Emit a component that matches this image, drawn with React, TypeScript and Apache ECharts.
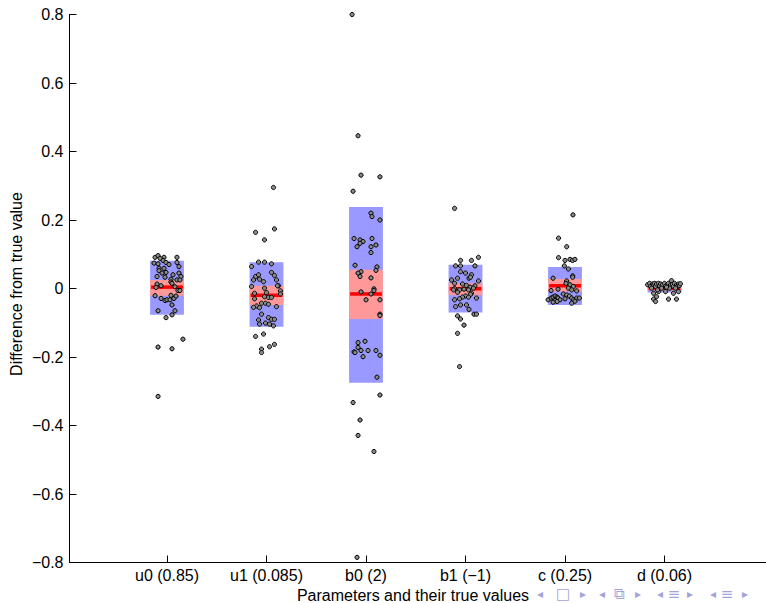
import React, { useEffect, useRef } from "react";
import * as echarts from "echarts";

const categories = ["u0 (0.85)", "u1 (0.085)", "b0 (2)", "b1 (\u22121)", "c (0.25)", "d (0.06)"];

const means = [0.004, -0.02, -0.016, -0.001, 0.008, 0.001];
const ciLow = [-0.021, -0.048, -0.089, -0.02, -0.009, -0.005];
const ciHigh = [0.025, 0.008, 0.055, 0.015, 0.028, 0.006];
const sdLow = [-0.077, -0.112, -0.275, -0.07, -0.048, -0.012];
const sdHigh = [0.081, 0.077, 0.238, 0.069, 0.063, 0.015];

// [horizontal jitter, value]
const u0Points: [number, number][] = [
  [-0.12, 0.091], [-0.09, 0.096], [-0.03, 0.091], [0.1, 0.091], [-0.13, 0.074], [-0.09, 0.072],
  [-0.04, 0.082], [-0.01, 0.076], [0.1, 0.076], [-0.08, 0.059], [-0.03, 0.059], [0.12, 0.064],
  [-0.08, 0.052], [-0.01, 0.047], [0.12, 0.045], [-0.1, 0.035], [-0.02, 0.033], [0.04, 0.027],
  [0.1, 0.025], [0.14, 0.035], [0.13, 0.025], [0.04, 0.019], [0.05, 0.015], [-0.1, 0.013],
  [-0.06, 0.008], [-0.11, 0.003], [0.11, -0.006], [0.13, -0.006], [-0.12, -0.021], [-0.06, -0.029],
  [-0.02, -0.035], [0.0, -0.033], [0.03, -0.033], [0.07, -0.029], [0.09, -0.022], [0.04, -0.02],
  [0.05, -0.048], [-0.09, -0.065], [0.08, -0.065], [0.05, -0.077], [-0.01, -0.085], [0.16, -0.148],
  [-0.09, -0.171], [0.05, -0.176], [-0.09, -0.315], [-0.07, 0.088], [0.02, 0.07], [0.06, 0.04],
  [-0.05, 0.045], [0.08, 0.005],
];
const u1Points: [number, number][] = [
  [0.07, 0.295], [-0.11, 0.164], [0.08, 0.174], [-0.02, 0.142], [-0.08, 0.077], [-0.02, 0.077],
  [0.05, 0.072], [-0.15, 0.064], [0.08, 0.038], [0.05, 0.047], [-0.11, 0.035], [-0.08, 0.04],
  [-0.07, 0.027], [-0.13, 0.025], [-0.03, 0.02], [0.1, 0.025], [0.12, 0.008], [0.11, 0.008],
  [-0.15, 0.006], [-0.02, 0.001], [-0.12, -0.014], [0.0, -0.012], [0.14, -0.007], [0.14, -0.016],
  [-0.02, -0.024], [0.02, -0.026], [0.05, -0.026], [-0.12, -0.03], [-0.05, -0.043], [-0.1, -0.051],
  [-0.07, -0.056], [-0.01, -0.043], [0.02, -0.046], [0.1, -0.053], [-0.13, -0.055], [-0.05, -0.075],
  [0.02, -0.085], [0.05, -0.09], [0.08, -0.09], [-0.01, -0.101], [0.03, -0.104], [0.07, -0.109],
  [-0.08, -0.092], [-0.07, -0.104], [-0.11, -0.14], [-0.03, -0.133], [0.08, -0.163], [0.03, -0.17],
  [-0.05, -0.177], [-0.05, -0.187],
];
const b0Points: [number, number][] = [
  [-0.14, 0.8], [-0.08, 0.446], [-0.05, 0.331], [0.14, 0.326], [-0.13, 0.284], [0.05, 0.22],
  [0.06, 0.21], [0.14, 0.2], [-0.12, 0.146], [-0.06, 0.142], [-0.03, 0.137], [-0.06, 0.132],
  [-0.09, 0.122], [0.06, 0.146], [0.05, 0.122], [0.1, 0.127], [0.05, 0.105], [-0.11, 0.068],
  [0.11, 0.063], [0.1, 0.053], [-0.05, 0.049], [-0.08, 0.045], [-0.06, 0.035], [0.05, 0.031],
  [-0.05, -0.01], [0.08, -0.001], [0.08, -0.006], [0.05, -0.016], [0.0, -0.033], [0.14, -0.033],
  [0.14, -0.075], [0.14, -0.079], [-0.08, -0.158], [-0.01, -0.154], [-0.08, -0.172], [-0.12, -0.185],
  [-0.11, -0.187], [-0.05, -0.181], [0.02, -0.181], [0.1, -0.181], [-0.03, -0.199], [0.14, -0.195],
  [0.11, -0.259], [0.14, -0.311], [-0.13, -0.333], [-0.06, -0.384], [-0.08, -0.429], [0.08, -0.476],
  [-0.09, -0.785],
];
const b1Points: [number, number][] = [
  [-0.11, 0.234], [-0.05, 0.082], [0.06, 0.082], [0.13, 0.091], [-0.1, 0.066], [-0.05, 0.066],
  [0.095, 0.066], [-0.05, 0.049], [0.0, 0.045], [0.06, 0.04], [0.035, 0.03], [0.05, 0.033],
  [-0.08, 0.03], [-0.14, 0.025], [0.13, 0.022], [-0.11, 0.015], [-0.03, 0.013], [0.01, 0.009],
  [0.095, 0.008], [0.045, 0.004], [-0.11, 0.0], [-0.12, -0.004], [-0.06, -0.004], [-0.015, -0.002],
  [0.03, -0.004], [0.08, 0.001], [-0.08, -0.011], [0.06, -0.014], [0.05, -0.017], [0.0, -0.022],
  [-0.03, -0.025], [0.03, -0.025], [-0.11, -0.033], [-0.06, -0.03], [0.11, -0.028], [-0.1, -0.053],
  [-0.05, -0.048], [0.01, -0.048], [0.035, -0.061], [0.085, -0.075], [0.11, -0.075], [-0.08, -0.08],
  [-0.05, -0.089], [-0.015, -0.107], [-0.08, -0.131], [-0.06, -0.228],
];
const cPoints: [number, number][] = [
  [0.08, 0.215], [-0.065, 0.147], [0.017, 0.122], [-0.065, 0.09], [0.0, 0.082], [0.05, 0.085],
  [0.077, 0.082], [0.1, 0.085], [-0.007, 0.066], [0.034, 0.057], [-0.12, 0.03], [0.017, 0.022],
  [0.077, 0.037], [0.077, 0.033], [0.01, 0.015], [0.05, 0.011], [0.084, 0.006], [0.034, 0.001],
  [-0.14, -0.006], [-0.07, -0.002], [-0.017, -0.016], [0.067, -0.004], [0.117, -0.007], [-0.17, -0.033],
  [-0.14, -0.028], [-0.12, -0.025], [-0.1, -0.022], [-0.08, -0.025], [-0.07, -0.028], [-0.05, -0.033],
  [0.017, -0.019], [0.044, -0.022], [0.067, -0.028], [0.084, -0.033], [0.117, -0.028], [0.144, -0.028],
  [0.0, -0.03], [0.067, -0.043], [-0.1, -0.035], [-0.08, -0.038], [-0.12, -0.04], [0.1, -0.037],
];
const dPoints: [number, number][] = [
  [-0.17, 0.011], [-0.15, 0.015], [-0.14, 0.006], [-0.12, 0.013], [-0.11, 0.011], [-0.1, 0.015],
  [-0.09, 0.006], [-0.08, 0.013], [-0.06, 0.015], [-0.05, 0.008], [-0.04, 0.013], [-0.02, 0.011],
  [0.0, 0.015], [0.01, 0.006], [0.03, 0.012], [0.04, 0.015], [0.06, 0.01], [0.07, 0.023],
  [0.08, 0.012], [0.09, 0.006], [0.1, 0.015], [0.12, 0.01], [0.13, 0.006], [0.14, 0.013],
  [0.15, 0.009], [0.16, 0.014], [-0.11, -0.014], [-0.08, -0.024], [-0.11, -0.031], [-0.09, -0.038],
  [0.04, -0.031], [0.12, -0.031], [-0.06, -0.009], [0.01, -0.009], [0.09, -0.014], [0.14, -0.009],
  [-0.13, 0.001], [-0.03, 0.001], [0.05, 0.001], [0.11, 0.001], [-0.07, -0.004], [0.02, 0.004],
];
const pointSets = [u0Points, u1Points, b0Points, b1Points, cPoints, dPoints];

const navIcons = ["\u25C2", "\u25A1", "\u25B8", "\u25C2", "\u29C9", "\u25B8", "\u25C2", "\u2261", "\u25B8", "\u25C2", "\u2261", "\u25B8"];
const navX = [540, 563, 583, 602, 619, 638, 660, 674, 690, 713, 727, 745];

const FONT = "'Liberation Sans', Arial, Helvetica, sans-serif";

export default function App() {
  const ref = useRef<HTMLDivElement>(null);
  useEffect(() => {
    if (!ref.current) return;
    const chart = echarts.init(ref.current, undefined, { renderer: "svg" });
    const boxData = categories.map((_, i) => [i + 1, sdLow[i], sdHigh[i], ciLow[i], ciHigh[i], means[i]]);
    const scatterData: number[][] = [];
    pointSets.forEach((pts, i) => pts.forEach(([o, v]) => scatterData.push([i + 1 + o, v])));
    const fmtY = (v: number) => {
      if (Math.abs(v) < 1e-9) return "0";
      const s = Math.abs(v).toFixed(1);
      return v < 0 ? "\u2212" + s : s;
    };
    chart.setOption({
      animation: false,
      backgroundColor: "#ffffff",
      grid: { left: 69.5, right: 0, top: 14.5, bottom: 40.5 },
      xAxis: {
        type: "value",
        min: 0.02,
        max: 7.02,
        axisLine: { show: true, onZero: false, lineStyle: { color: "#000", width: 1 } },
        axisTick: { show: true, inside: true, length: 7, lineStyle: { color: "#000" }, customValues: [1, 2, 3, 4, 5, 6] },
        axisLabel: {
          color: "#000",
          fontFamily: FONT,
          fontSize: 16,
          margin: 5,
          customValues: [1, 2, 3, 4, 5, 6],
          formatter: (v: number) => categories[Math.round(v) - 1] ?? "",
        },
        splitLine: { show: false },
      },
      yAxis: {
        type: "value",
        min: -0.8,
        max: 0.8,
        interval: 0.2,
        axisLine: { show: true, onZero: false, lineStyle: { color: "#000", width: 1 } },
        axisTick: { show: true, inside: true, length: 7, lineStyle: { color: "#000" } },
        axisLabel: { color: "#000", fontFamily: FONT, fontSize: 16, margin: 6, formatter: fmtY },
        splitLine: { show: false },
      },
      graphic: [
        {
          type: "text",
          x: 16,
          y: 284,
          rotation: Math.PI / 2,
          style: { text: "Difference from true value", fontFamily: FONT, fontSize: 16, fill: "#000", textAlign: "center", textVerticalAlign: "middle" },
        },
        {
          type: "text",
          x: 413,
          y: 595,
          style: { text: "Parameters and their true values", fontFamily: FONT, fontSize: 16, fill: "#000", textAlign: "center", textVerticalAlign: "middle" },
        },
        ...navIcons.map((t, i) => ({
          type: "text",
          x: navX[i],
          y: 594,
          style: { text: t, fontFamily: "'DejaVu Sans', sans-serif", fontSize: t === "\u25C2" || t === "\u25B8" ? 12 : 15, fill: "#a3a3dc", textAlign: "center", textVerticalAlign: "middle" },
        })),
      ],
      series: [
        {
          type: "custom",
          z: 1,
          data: boxData,
          renderItem: (params: any, api: any) => {
            const x = api.value(0);
            const hw = 0.17;
            const sdTL = api.coord([x - hw, api.value(2)]);
            const sdBR = api.coord([x + hw, api.value(1)]);
            const ciTL = api.coord([x - hw, api.value(4)]);
            const ciBR = api.coord([x + hw, api.value(3)]);
            const m = api.coord([x - hw, api.value(5)]);
            return {
              type: "group",
              children: [
                { type: "rect", shape: { x: sdTL[0], y: sdTL[1], width: sdBR[0] - sdTL[0], height: sdBR[1] - sdTL[1] }, style: { fill: "#9999ff" } },
                { type: "rect", shape: { x: ciTL[0], y: ciTL[1], width: ciBR[0] - ciTL[0], height: ciBR[1] - ciTL[1] }, style: { fill: "#ff9999" } },
                { type: "rect", shape: { x: m[0] + 1, y: m[1] - 1.75, width: sdBR[0] - sdTL[0] - 2, height: 3.5 }, style: { fill: "#ff0000" } },
              ],
            };
          },
        },
        {
          type: "scatter",
          z: 2,
          data: scatterData,
          symbol: "circle",
          symbolSize: 4.2,
          itemStyle: { color: "#8a8a8a", borderColor: "#000000", borderWidth: 1, opacity: 1 },
        },
      ],
    });
    return () => chart.dispose();
  }, []);
  return <div ref={ref} style={{ position: "fixed", left: 0, top: 0, width: 766, height: 603 }} />;
}
